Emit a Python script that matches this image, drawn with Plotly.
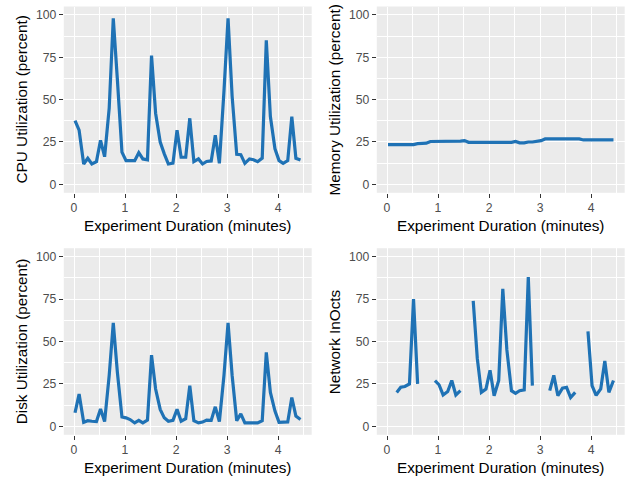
import plotly.graph_objects as go

# ---- data ----
minutes = [0.02, 0.10, 0.19, 0.27, 0.35, 0.44, 0.52, 0.60, 0.69, 0.77,
           0.85, 0.94, 1.02, 1.10, 1.19, 1.27, 1.35, 1.44, 1.52, 1.60,
           1.69, 1.77, 1.85, 1.94, 2.02, 2.10, 2.19, 2.27, 2.35, 2.44,
           2.52, 2.60, 2.69, 2.77, 2.85, 2.94, 3.02, 3.10, 3.19, 3.27,
           3.35, 3.44, 3.52, 3.60, 3.69, 3.77, 3.85, 3.94, 4.02, 4.10,
           4.19, 4.27, 4.35, 4.44]

cpu = [37.6, 32, 12, 15.4, 12, 13.4, 26, 16.3, 45, 98,
       62, 19, 14, 13.8, 14, 18.7, 15, 14.5, 76, 42,
       25, 18, 12, 12.5, 32, 16, 16, 39, 13.4, 15,
       12, 13.5, 13.8, 29, 12.4, 55, 98, 52, 17.7, 17.5,
       12.4, 15, 14.5, 13.4, 15.5, 85, 40, 21, 14, 12.4,
       14, 40, 15.4, 14.4]

memory = [23.5, 23.5, 23.5, 23.5, 23.5, 23.5, 23.5, 24, 24, 24.3,
          25.3, 25.3, 25.3, 25.3, 25.3, 25.3, 25.3, 25.5, 25.8, 24.8,
          24.8, 24.8, 24.8, 24.8, 24.8, 24.8, 24.8, 24.8, 24.8, 24.8,
          25.3, 24.5, 24.5, 25, 25, 25.2, 25.8, 26.8, 26.8, 26.8,
          26.8, 26.8, 26.8, 26.8, 26.8, 26.8, 26.2, 26.2, 26.2, 26.2,
          26.2, 26.2, 26.2, 26.2]

disk = [8, 19, 2.4, 3.3, 3, 2.8, 10.2, 2.8, 30, 61,
        32, 5.5, 5, 4, 2, 3.5, 2, 3.7, 42, 22,
        10, 5, 3, 3.5, 10, 3, 4.5, 24, 3.3, 2,
        2.5, 3.7, 3.5, 11.5, 2.8, 30, 61, 30, 3.3, 7.3,
        2, 2, 2, 2, 3.3, 43.6, 20, 9, 2.4, 2.4,
        2.6, 17, 6, 4]

network = [None, None, 20, 23, 23.5, 25, 75, 25, None, None,
           None, 27, 24.5, 18.5, 20.5, 27, 18.5, 21, None, None,
           74, 40, 20, 22, 33, 18, 27, 81, 45, 21,
           19.5, 21, 21.5, 88, 24, None, None, None, 21, 30,
           18, 22.5, 23, 17, 20, None, None, 56, 24, 18.3,
           22, 38.5, 20, 27]

x_ticks = [0, 1, 2, 3, 4]
y_ticks = [0, 25, 50, 75, 100]
x_title = "Experiment Duration (minutes)"
y_titles = ["CPU Utilization (percent)", "Memory Utilization (percent)",
            "Disk Utilization (percent)", "Network InOcts"]
series = [cpu, memory, disk, network]

# ---- layout geometry (pixels) ----
W, H = 626, 478
col_px = [(63.8, 311.7), (376.8, 624.7)]
row_px = [(6.5, 192.8), (248.2, 434.8)]
LINE = "#1F72B5"
FONT = "Liberation Sans, Arial, sans-serif"

fig = go.Figure()
layout = dict(width=W, height=H, margin=dict(l=0, r=0, t=0, b=0),
              paper_bgcolor="white", plot_bgcolor="#EBEBEB",
              showlegend=False, font=dict(family=FONT))
annotations = []

for k in range(4):
    r, c = divmod(k, 2)
    ax = "" if k == 0 else str(k + 1)
    x0, x1 = col_px[c]
    yt, yb = row_px[r]
    layout["xaxis" + ax] = dict(
        domain=[x0 / W, x1 / W], anchor="y" + ax, range=[-0.2, 4.66],
        tickvals=x_ticks, ticks="outside", ticklen=4, tickwidth=1.1,
        tickcolor="#333333", tickfont=dict(size=12.2, color="#4D4D4D", family=FONT),
        showgrid=True, gridcolor="white", gridwidth=1.4, zeroline=False,
        showline=False, fixedrange=True,
        minor=dict(dtick=0.5, tick0=0, showgrid=True, gridcolor="white", gridwidth=0.7),
    )
    layout["yaxis" + ax] = dict(
        domain=[1 - yb / H, 1 - yt / H], anchor="x" + ax, range=[-5, 105],
        tickvals=y_ticks, ticks="outside", ticklen=4, tickwidth=1.1,
        tickcolor="#333333", tickfont=dict(size=12.2, color="#4D4D4D", family=FONT),
        showgrid=True, gridcolor="white", gridwidth=1.4, zeroline=False,
        showline=False, fixedrange=True,
        minor=dict(dtick=12.5, tick0=0, showgrid=True, gridcolor="white", gridwidth=0.7),
    )
    fig.add_trace(go.Scatter(x=minutes, y=series[k], mode="lines",
                             line=dict(color=LINE, width=3.2),
                             connectgaps=False, xaxis="x" + ax, yaxis="y" + ax,
                             hoverinfo="skip"))
    # axis titles
    annotations.append(dict(text=x_title, xref="paper", yref="paper",
                            x=(x0 + x1) / 2 / W, y=1 - (yb + 33) / H,
                            xanchor="center", yanchor="middle", showarrow=False,
                            font=dict(size=15.3, color="black", family=FONT)))
    annotations.append(dict(text=y_titles[k], xref="paper", yref="paper",
                            x=(x0 - 42) / W, y=1 - (yt + yb) / 2 / H,
                            xanchor="center", yanchor="middle", showarrow=False,
                            textangle=-90,
                            font=dict(size=15.3, color="black", family=FONT)))

layout["annotations"] = annotations
fig.update_layout(**layout)
fig.write_html("out.html")
